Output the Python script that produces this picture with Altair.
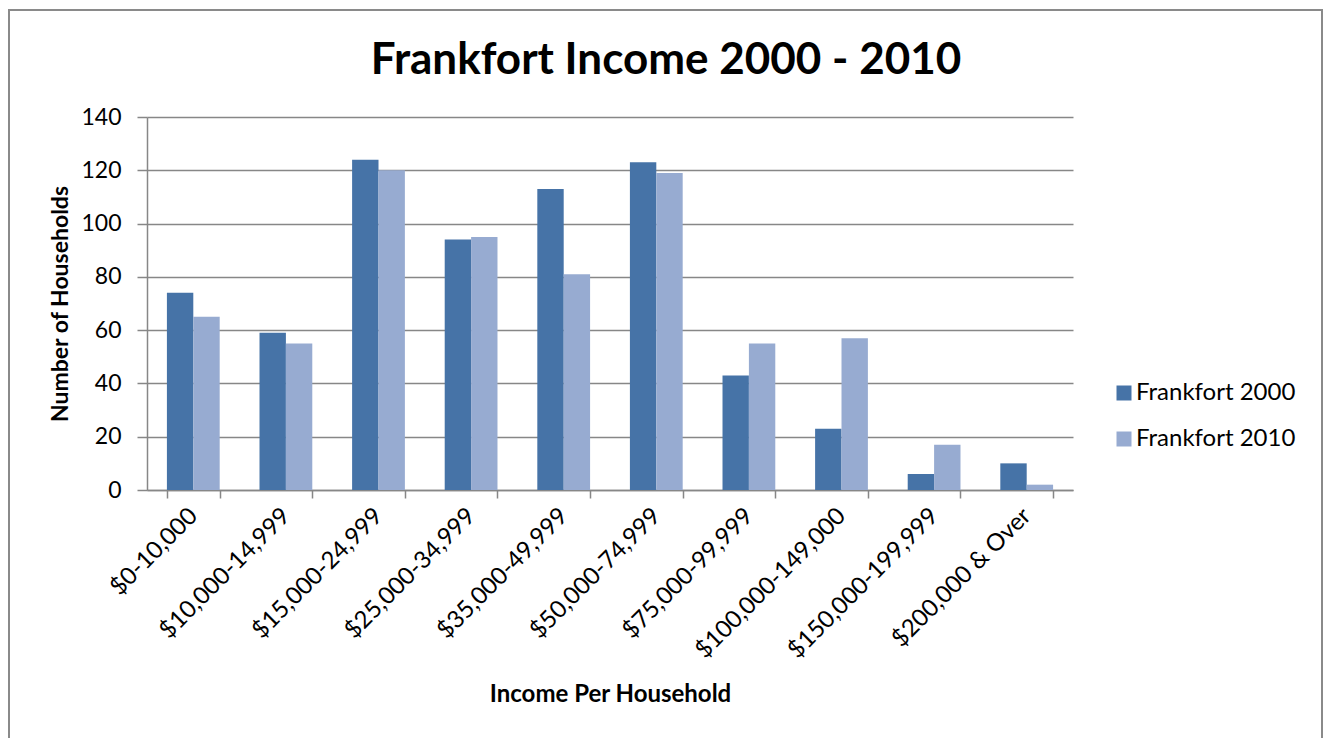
import altair as alt
import pandas as pd

categories = ["$0-10,000", "$10,000-14,999", "$15,000-24,999", "$25,000-34,999",
              "$35,000-49,999", "$50,000-74,999", "$75,000-99,999", "$100,000-149,000",
              "$150,000-199,999", "$200,000 & Over"]
series = ["Frankfort 2000", "Frankfort 2010"]
values_2000 = [74, 59, 124, 94, 113, 123, 43, 23, 6, 10]
values_2010 = [65, 55, 120, 95, 81, 119, 55, 57, 17, 2]
colors = ["#4673A7", "#97ABD1"]
y_ticks = [0, 20, 40, 60, 80, 100, 120, 140]

rows = []
for c, a, b in zip(categories, values_2000, values_2010):
    rows.append({"Income": c, "Series": series[0], "Households": a})
    rows.append({"Income": c, "Series": series[1], "Households": b})
df = pd.DataFrame(rows)

GRID = "#878787"
FRAME = "#8a8a8a"

bars = alt.Chart(df).mark_bar().encode(
    x=alt.X("Income:N", sort=categories,
            scale=alt.Scale(paddingInner=0.43, paddingOuter=0.215),
            axis=alt.Axis(title="Income Per Household", labelAngle=-45,
                          labelAlign="right", labelBaseline="middle",
                          labelFontSize=24, labelColor="#000", labelPadding=14,
                          labelLimit=400, labelOverlap=False,
                          tickBand="extent", tickSize=8, tickColor=GRID, tickWidth=1.5,
                          domainColor=GRID, domainWidth=1.5, grid=False,
                          titleFontSize=24, titleFontWeight="bold", titleColor="#000",
                          titleY=204, titleBaseline="middle")),
    xOffset=alt.XOffset("Series:N", sort=series),
    y=alt.Y("Households:Q",
            scale=alt.Scale(domain=[0, 140], nice=False),
            axis=alt.Axis(title="Number of Households", values=y_ticks,
                          labelFontSize=23, labelColor="#000", labelPadding=16,
                          tickSize=10, tickColor=GRID, tickWidth=1.5,
                          domainColor=GRID, domainWidth=1.5,
                          grid=True, gridColor=GRID, gridWidth=1.5,
                          titleFontSize=23, titleFontWeight="bold", titleColor="#000",
                          titleX=-87, titleY=186.5, titleAngle=-90,
                          titleAlign="center", titleBaseline="middle")),
    color=alt.Color("Series:N", sort=series,
                    scale=alt.Scale(domain=series, range=colors),
                    legend=alt.Legend(title=None, orient="none", legendX=965, legendY=264,
                                      symbolType="square", symbolSize=225,
                                      symbolStrokeWidth=0, labelFontSize=24,
                                      labelColor="#000", labelOffset=0, rowPadding=22,
                                      padding=0)),
)

one = pd.DataFrame({"k": [0]})
frame_top = alt.Chart(one).mark_rule(stroke=FRAME, strokeWidth=2).encode(
    x=alt.value(-139), x2=alt.value(1176), y=alt.value(-107))
frame_left = alt.Chart(one).mark_rule(stroke=FRAME, strokeWidth=2).encode(
    x=alt.value(-138), y=alt.value(-108), y2=alt.value(640))
frame_right = alt.Chart(one).mark_rule(stroke=FRAME, strokeWidth=2).encode(
    x=alt.value(1175), y=alt.value(-108), y2=alt.value(640))

chart = alt.layer(frame_top, frame_left, frame_right, bars).properties(
    width=926, height=373,
    title=alt.Title("Frankfort Income 2000 - 2010", fontSize=44, fontWeight="bold",
                    color="#000", anchor="middle", dx=56, offset=0, dy=110,
                    baseline="alphabetic"),
    autosize=alt.AutoSizeParams(type="none"),
    padding={"left": 139, "top": 109, "right": 250, "bottom": 250},
).configure(font="Lato").configure_view(stroke=None)

chart.save("out.html", embed_options={"renderer": "svg", "actions": False})
